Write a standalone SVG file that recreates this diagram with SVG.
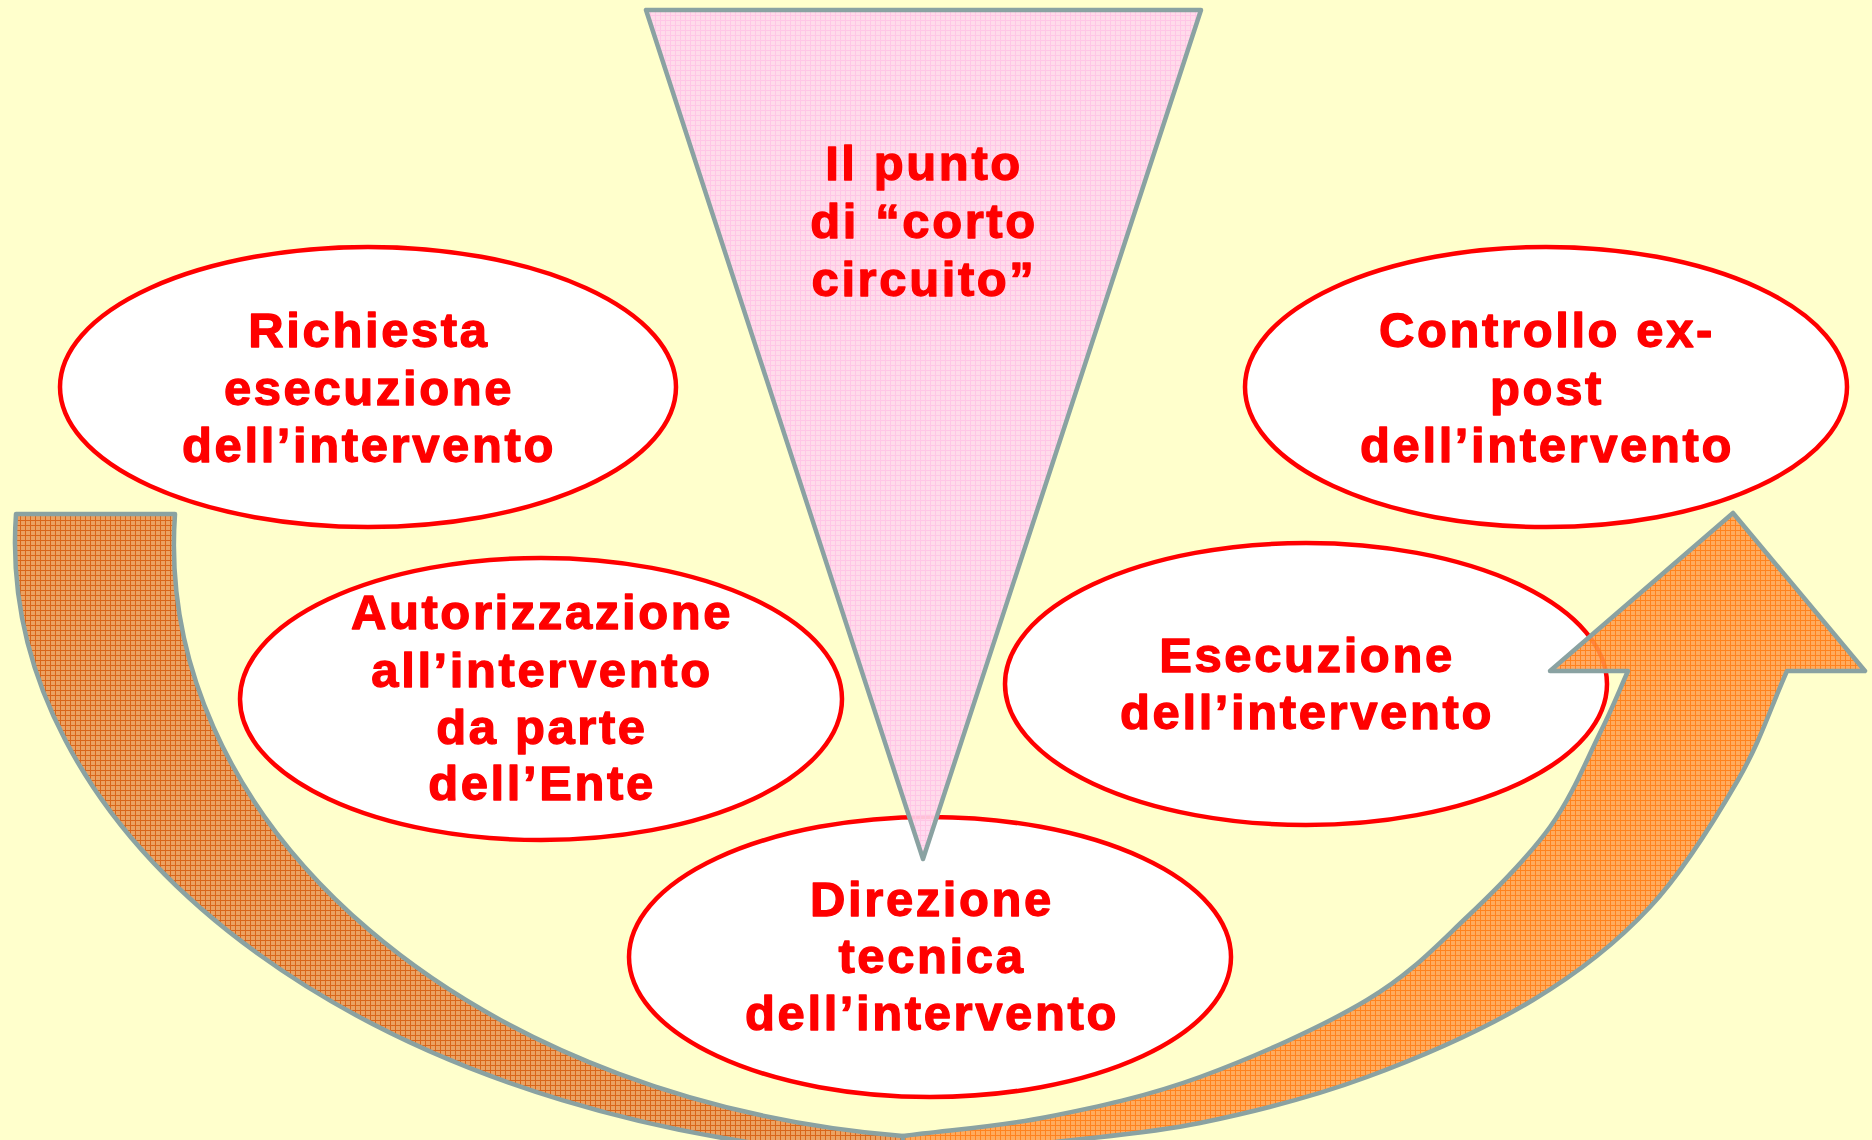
<svg xmlns="http://www.w3.org/2000/svg" width="1872" height="1140" viewBox="0 0 1872 1140">
<defs>
<pattern id="pBack" width="5" height="5" patternUnits="userSpaceOnUse">
<rect width="5" height="5" fill="#EBA262"/>
<path d="M0 0.5H5M0.5 0V5" stroke="#D9661A" stroke-width="1"/>
</pattern>
<pattern id="pFront" width="5" height="5" patternUnits="userSpaceOnUse">
<rect width="5" height="5" fill="#FF9C4A" opacity="0.85"/>
<path d="M0 0.5H5M0.5 0V5" stroke="#FF7A12" stroke-width="1" opacity="0.85"/>
</pattern>
<pattern id="pPink" width="5" height="5" patternUnits="userSpaceOnUse">
<rect width="5" height="5" fill="#FFD8EE" opacity="0.9"/>
<path d="M0 0.5H5M0.5 0V5" stroke="#FFC4E6" stroke-width="1" opacity="0.9"/>
</pattern>
</defs>
<style>
.node{fill:#FFFFFF;stroke:#FF0000;stroke-width:4.5}
.lbl{font-family:"Liberation Sans",Arial,sans-serif;font-weight:bold;font-size:49px;letter-spacing:2.6px;fill:#FF0000;stroke:#FF0000;stroke-width:1.3px;stroke-linejoin:round;text-anchor:middle}
.band{stroke:#8AA2A2;stroke-width:4.5;stroke-linejoin:round}
</style>
<rect width="1872" height="1140" fill="#FFFFCC"/>

<g id="node-richiesta">
<ellipse class="node" cx="368" cy="387" rx="308" ry="140"/>
<text class="lbl" x="369" y="347">Richiesta</text>
<text class="lbl" x="369" y="405">esecuzione</text>
<text class="lbl" x="369" y="462">dell’intervento</text>
</g>

<g id="node-autorizzazione">
<ellipse class="node" cx="541" cy="699" rx="301" ry="141"/>
<text class="lbl" x="542" y="629">Autorizzazione</text>
<text class="lbl" x="542" y="687">all’intervento</text>
<text class="lbl" x="542" y="744">da parte</text>
<text class="lbl" x="542" y="800">dell’Ente</text>
</g>

<g id="node-direzione">
<ellipse class="node" cx="930" cy="957" rx="301" ry="140"/>
<text class="lbl" x="932" y="916">Direzione</text>
<text class="lbl" x="932" y="973">tecnica</text>
<text class="lbl" x="932" y="1030">dell’intervento</text>
</g>

<g id="node-esecuzione">
<ellipse class="node" cx="1306" cy="684" rx="301" ry="141"/>
<text class="lbl" x="1307" y="672">Esecuzione</text>
<text class="lbl" x="1307" y="729">dell’intervento</text>
</g>

<g id="node-controllo">
<ellipse class="node" cx="1546" cy="387" rx="301" ry="140"/>
<text class="lbl" x="1547" y="347">Controllo ex-</text>
<text class="lbl" x="1547" y="405">post</text>
<text class="lbl" x="1547" y="462">dell’intervento</text>
</g>

<g id="node-cortocircuito">
<polygon points="646,10 1201,10 923,859" fill="url(#pPink)" stroke="#8AA2A2" stroke-width="4.5" stroke-linejoin="round"/>
<text class="lbl" x="924" y="180">Il punto</text>
<text class="lbl" x="924" y="238">di “corto</text>
<text class="lbl" x="924" y="296">circuito”</text>
</g>

<g id="connectors">
<path class="band" fill="url(#pBack)" d="M16 514 L175 514 A820 595 0 0 0 903 1136 L903 1157 A950 616 0 0 1 16 514 Z"/>
<path class="band" fill="url(#pFront)" d="M903 1136 C951 1129.7 997.5 1126.8 1047 1117 C1096.5 1107.2 1146.7 1096.5 1200 1077 C1253.3 1057.5 1322.5 1026.7 1367 1000 C1411.5 973.3 1436.5 945.8 1467 917 C1497.5 888.2 1527.8 857.7 1550 827 C1572.2 796.3 1587 759 1600 733 C1613 707 1618.7 691.7 1628 671 L1550 671 L1733 513 L1865 671 L1787 671 C1770.7 707.3 1760.8 740.7 1738 780 C1715.2 819.3 1684.2 870.3 1650 907 C1615.8 943.7 1580.2 971.7 1533 1000 C1485.8 1028.3 1422.5 1056.5 1367 1077 C1311.5 1097.5 1253.3 1112 1200 1123 C1146.7 1134 1094.7 1136.8 1047 1143 C999.3 1149.2 958.3 1154.3 903 1160 Z"/>
</g>
</svg>
